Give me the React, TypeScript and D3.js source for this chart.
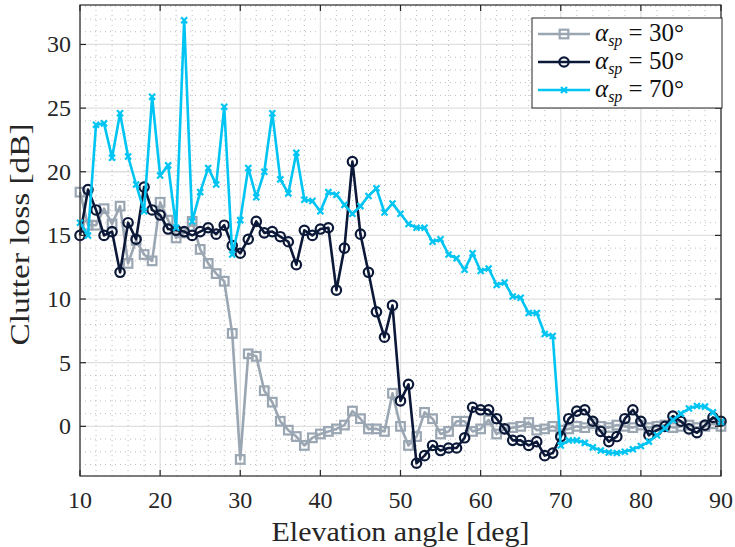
import React from "react";
import * as d3 from "d3";

const angles = d3.range(10, 91);

const loss30 = [
  18.4, 15.8, 15.8, 17.1, 15.9, 17.3, 12.8, 14.6, 13.5, 13.0,
  17.6, 16.2, 14.8, 15.2, 16.1, 13.9, 12.8, 12.0, 11.4, 7.3,
  -2.6, 5.7, 5.5, 2.8, 1.9, 0.4, -0.3, -0.8, -1.5, -0.9,
  -0.6, -0.4, -0.2, 0.1, 1.2, 0.6, -0.2, -0.2, -0.4, 2.6,
  0.0, -1.5, -0.8, 1.1, 0.6, -0.6, -0.4, 0.4, 0.4, -0.4,
  -0.2, 0.5, -0.6, -0.2, -0.1, 0.0, 0.3, -0.3, -0.2, 0.0,
  -0.3, -0.2, 0.0, -0.1, 0.2, 0.0, -0.1, 0.1, 0.0, -0.1,
  0.1, -0.1, 0.0, 0.1, -0.1, 0.0, 0.1, -0.1, 0.0, 0.2, 0.0,
];

const loss50 = [
  15.0, 18.6, 17.0, 15.0, 15.3, 12.1, 16.0, 14.7, 18.8, 17.0,
  16.6, 15.5, 15.4, 15.3, 15.0, 15.3, 15.6, 15.1, 15.8, 14.2,
  13.6, 14.7, 16.1, 15.2, 15.3, 14.9, 14.5, 12.7, 15.4, 15.0,
  15.5, 15.6, 10.7, 14.0, 20.8, 15.1, 12.1, 9.0, 7.0, 9.5,
  2.0, 3.3, -2.9, -2.3, -1.5, -1.9, -1.7, -1.7, -0.9, 1.5,
  1.3, 1.3, 0.6, -0.2, -1.1, -1.1, -1.5, -1.2, -2.3, -2.1,
  -0.8, 0.6, 1.2, 1.3, 0.4, -0.4, -1.2, -0.8, 0.6, 1.3,
  0.4, -0.7, -0.3, 0.0, 0.8, 0.4, -0.2, -0.5, 0.1, 0.7, 0.4,
];

const loss70 = [
  16.0, 15.0, 23.7, 23.8, 21.1, 24.6, 21.2, 19.0, 16.9, 25.9,
  19.7, 20.5, 15.6, 31.9, 16.1, 18.4, 20.3, 19.0, 25.1, 13.5,
  16.2, 20.3, 18.0, 20.0, 24.6, 19.4, 18.3, 21.5, 17.8, 17.7,
  16.9, 18.4, 18.2, 17.4, 16.7, 17.3, 18.1, 18.7, 16.8, 17.5,
  16.7, 15.9, 15.6, 15.6, 14.5, 14.7, 13.5, 13.2, 12.3, 13.6,
  12.2, 12.4, 11.1, 11.3, 10.2, 10.1, 8.9, 8.9, 7.25, 7.1,
  -1.5, -1.1, -1.1, -1.3, -1.65, -1.9, -2.05, -2.1, -2.0, -1.8,
  -1.55, -1.2, -0.7, -0.15, 0.5, 1.0, 1.4, 1.6, 1.55, 1.1, 0.35,
];

const xTicks = [10, 20, 30, 40, 50, 60, 70, 80, 90];
const yTicks = [0, 5, 10, 15, 20, 25, 30];
const seriesNames = ["30", "50", "70"];

const W = 735;
const H = 547;
const M = { left: 80, right: 721, top: 5, bottom: 476 };
const FONT = "Liberation Serif, DejaVu Serif, Times New Roman, serif";
const fontStyle = { fontFamily: FONT };

const colors = ["#9BA6B3", "#0B1838", "#00C4F2"];

export default function App() {
  const x = d3.scaleLinear().domain([10, 90]).range([M.left, M.right]);
  const y = d3.scaleLinear().domain([-3.9, 33.1]).range([M.bottom, M.top]);
  const line = d3
    .line<number>()
    .x((_, i) => x(angles[i]))
    .y((v) => y(v));

  const series = [loss30, loss50, loss70];
  const minorX = d3.range(10, 91, 2).filter((v) => v % 10 !== 0);
  const minorY = d3.range(-3, 34, 1).filter((v) => v % 5 !== 0);

  const marker = (k: number, cx: number, cy: number, key: string | number) => {
    if (k === 0) {
      return (
        <rect key={key} x={cx - 4.3} y={cy - 4.3} width={8.6} height={8.6} fill="none" stroke={colors[0]} strokeWidth={2.2} />
      );
    }
    if (k === 1) {
      return <circle key={key} cx={cx} cy={cy} r={4.7} fill="none" stroke={colors[1]} strokeWidth={2.2} />;
    }
    const s = 3;
    return (
      <path
        key={key}
        d={`M${cx - s},${cy - s}L${cx + s},${cy + s}M${cx - s},${cy + s}L${cx + s},${cy - s}`}
        stroke={colors[2]}
        strokeWidth={2.2}
        fill="none"
      />
    );
  };

  const legendX = 532;
  const legendY = 18;
  const legendW = 190;
  const legendH = 90;

  return (
    <svg width={W} height={H} style={{ position: "absolute", left: 0, top: 0, background: "#fff" }}>
      <rect x={M.left} y={M.top} width={M.right - M.left} height={M.bottom - M.top} fill="#fff" />
      {minorX.map((v) => (
        <line key={"mx" + v} x1={x(v)} x2={x(v)} y1={M.top} y2={M.bottom} stroke="#bdbdbd" strokeWidth={1} strokeDasharray="1,4" />
      ))}
      {minorY.map((v) => (
        <line key={"my" + v} x1={M.left} x2={M.right} y1={y(v)} y2={y(v)} stroke="#bdbdbd" strokeWidth={1} strokeDasharray="1,4" />
      ))}
      {xTicks.map((v) => (
        <line key={"gx" + v} x1={x(v)} x2={x(v)} y1={M.top} y2={M.bottom} stroke="#e0e0e0" strokeWidth={1.3} />
      ))}
      {yTicks.map((v) => (
        <line key={"gy" + v} x1={M.left} x2={M.right} y1={y(v)} y2={y(v)} stroke="#e0e0e0" strokeWidth={1.3} />
      ))}

      {series.map((s, k) => (
        <g key={"s" + k}>
          <path d={line(s) || ""} fill="none" stroke={colors[k]} strokeWidth={2.6} strokeLinejoin="round" />
          {s.map((v, i) => marker(k, x(angles[i]), y(v), i))}
        </g>
      ))}

      <rect x={M.left} y={M.top} width={M.right - M.left} height={M.bottom - M.top} fill="none" stroke="#262626" strokeWidth={1.2} />
      {xTicks.map((v) => (
        <g key={"tx" + v}>
          <line x1={x(v)} x2={x(v)} y1={M.bottom} y2={M.bottom - 6} stroke="#262626" strokeWidth={1.2} />
          <line x1={x(v)} x2={x(v)} y1={M.top} y2={M.top + 6} stroke="#262626" strokeWidth={1.2} />
          <text x={x(v)} y={M.bottom + 32} textAnchor="middle" style={fontStyle} fontSize={24} fill="#262626">
            {v}
          </text>
        </g>
      ))}
      {yTicks.map((v) => (
        <g key={"ty" + v}>
          <line x1={M.left} x2={M.left + 6} y1={y(v)} y2={y(v)} stroke="#262626" strokeWidth={1.2} />
          <line x1={M.right} x2={M.right - 6} y1={y(v)} y2={y(v)} stroke="#262626" strokeWidth={1.2} />
          <text x={M.left - 9} y={y(v) + 8} textAnchor="end" style={fontStyle} fontSize={24} fill="#262626">
            {v}
          </text>
        </g>
      ))}

      <text
        x={(M.left + M.right) / 2}
        y={541}
        textAnchor="middle"
        style={fontStyle}
        fontSize={28}
        fill="#262626"
        textLength={258}
        lengthAdjust="spacingAndGlyphs"
      >
        Elevation angle [deg]
      </text>
      <text
        transform={`translate(29,${(M.top + M.bottom) / 2 - 6}) rotate(-90)`}
        textAnchor="middle"
        style={fontStyle}
        fontSize={28}
        fill="#262626"
        textLength={222}
        lengthAdjust="spacingAndGlyphs"
      >
        Clutter loss [dB]
      </text>

      <rect x={legendX} y={legendY} width={legendW} height={legendH} fill="#fff" stroke="#262626" strokeWidth={1} />
      {seriesNames.map((name, k) => {
        const ly = legendY + 16 + k * 28;
        return (
          <g key={"l" + k}>
            <line x1={legendX + 6} x2={legendX + 58} y1={ly} y2={ly} stroke={colors[k]} strokeWidth={2.6} />
            {marker(k, legendX + 32, ly, "lm" + k)}
            <text x={legendX + 63} y={ly + 7} style={fontStyle} fontSize={25} fill="#111">
              <tspan fontStyle="italic">α</tspan>
              <tspan fontStyle="italic" fontSize={16} dy={5}>sp</tspan>
              <tspan dy={-5}>{" = " + name + "°"}</tspan>
            </text>
          </g>
        );
      })}
    </svg>
  );
}
